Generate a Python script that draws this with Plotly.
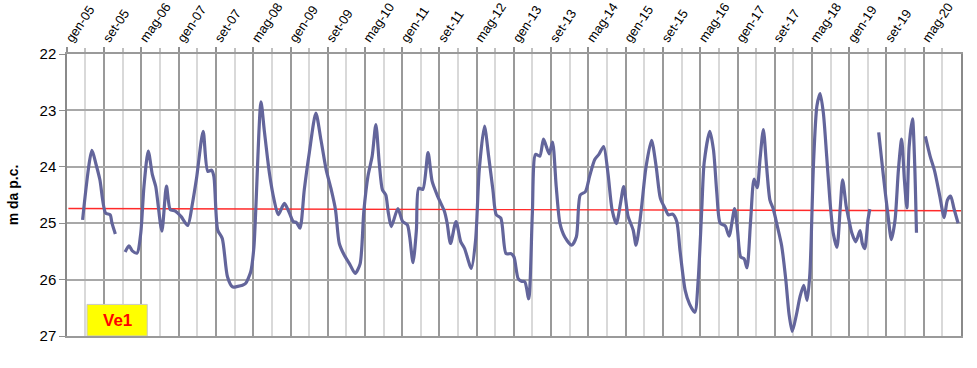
import plotly.graph_objects as go

# --- data (None = gap in the record) ---
dates = [
    "2005-04-13", "2005-06-13", "2005-07-10", "2005-08-04", "2005-09-10", "2005-10-10", "2005-10-22", "2005-11-13",
    "2005-12-15",
    "2006-01-16", "2006-02-10", "2006-03-04", "2006-04-04", "2006-04-28", "2006-05-19", "2006-06-16", "2006-07-13",
    "2006-08-04", "2006-09-13", "2006-10-13", "2006-11-07", "2006-12-07", "2007-01-16", "2007-03-01", "2007-04-01",
    "2007-04-28", "2007-06-10", "2007-07-10", "2007-08-04", "2007-08-19", "2007-09-13", "2007-10-13", "2007-11-16",
    "2007-12-19", "2008-01-22", "2008-02-22", "2008-03-13", "2008-04-16", "2008-05-07", "2008-06-22", "2008-07-13",
    "2008-08-16", "2008-09-16", "2008-10-13", "2008-11-22", "2008-12-25", "2009-01-19", "2009-02-10", "2009-03-04",
    "2009-04-01", "2009-05-04", "2009-06-16", "2009-07-19", "2009-08-22", "2009-09-22", "2009-10-22", "2009-11-16",
    "2009-12-19", "2010-01-22", "2010-02-28", "2010-04-01", "2010-04-25", "2010-05-22", "2010-06-19", "2010-07-13",
    "2010-08-04", "2010-08-25", "2010-09-16", "2010-10-01", "2010-10-22", "2010-12-04", "2011-01-04", "2011-02-04",
    "2011-02-19", "2011-03-13", "2011-04-04", "2011-04-19", "2011-05-16", "2011-06-19", "2011-07-16", "2011-08-22",
    "2011-10-04", "2011-10-22", "2011-11-13", "2011-12-19", "2012-01-19", "2012-02-13", "2012-03-28", "2012-04-25",
    "2012-05-19", "2012-06-22", "2012-07-19", "2012-08-16", "2012-09-07", "2012-10-07", "2012-11-10", "2012-12-13",
    "2013-01-01", "2013-01-28", "2013-02-19", "2013-03-13", "2013-04-07", "2013-05-01", "2013-05-22", "2013-06-19",
    "2013-07-13", "2013-08-19", "2013-09-10", "2013-10-04", "2013-10-28", "2013-11-28", "2014-01-13", "2014-02-13",
    "2014-03-10", "2014-04-13", "2014-05-10", "2014-06-13", "2014-07-10", "2014-08-10", "2014-09-07", "2014-10-04",
    "2014-11-01", "2014-11-28", "2014-12-19", "2015-01-16", "2015-02-19", "2015-03-10", "2015-04-13", "2015-05-13",
    "2015-06-19", "2015-07-19", "2015-08-16", "2015-09-16", "2015-10-07", "2015-11-04", "2015-12-01", "2015-12-22",
    "2016-01-25", "2016-02-22", "2016-03-28", "2016-04-19", "2016-05-13", "2016-05-28", "2016-07-04", "2016-07-28",
    "2016-08-19", "2016-09-10", "2016-10-13", "2016-11-07", "2016-12-13", "2017-01-01", "2017-01-22", "2017-02-13",
    "2017-03-04", "2017-03-28", "2017-04-19", "2017-05-10", "2017-05-28", "2017-06-19", "2017-07-10", "2017-08-01",
    "2017-08-22", "2017-09-19", "2017-10-16", "2017-11-13", "2017-12-04", "2017-12-25", "2018-01-22", "2018-02-13",
    "2018-03-10", "2018-04-01", "2018-04-19", "2018-05-13", "2018-06-04", "2018-06-25", "2018-07-16", "2018-08-07",
    "2018-08-28", "2018-09-19", "2018-10-13", "2018-11-04", "2018-11-19", "2018-12-13", "2018-12-28", "2019-01-19",
    "2019-02-13", "2019-03-13", "2019-03-28", "2019-04-13", "2019-05-04", "2019-05-16",
    "2019-06-15",
    "2019-07-13", "2019-08-13", "2019-09-10", "2019-10-04", "2019-10-28", "2019-11-19", "2019-12-10", "2019-12-28",
    "2020-01-13", "2020-01-28", "2020-02-19", "2020-03-04", "2020-03-16",
    "2020-04-15",
    "2020-05-13", "2020-06-13", "2020-07-13", "2020-08-16", "2020-09-13", "2020-10-04", "2020-10-25", "2020-11-16",
    "2020-12-13",
]
level = [
    24.94, 23.71, 23.96, 24.23, 24.82, 24.85, 25.00, 25.19,
    None,
    25.51, 25.40, 25.49, 25.53, 25.18, 24.35, 23.72, 24.14,
    24.35, 25.14, 24.34, 24.76, 24.78, 24.88, 25.04, 24.65,
    24.20, 23.37, 24.08, 24.06, 24.17, 25.12, 25.27, 25.95,
    26.13, 26.12, 26.10, 26.07, 25.86, 25.42, 22.85, 23.34,
    24.11, 24.59, 24.85, 24.65, 24.82, 24.97, 24.99, 25.09,
    24.41, 23.75, 23.05, 23.52, 24.05, 24.38, 24.76, 25.36,
    25.57, 25.72, 25.89, 25.72, 24.80, 24.17, 23.81, 23.25,
    23.93, 24.41, 24.50, 24.79, 25.06, 24.74, 24.97, 25.03,
    25.24, 25.70, 25.12, 24.38, 24.40, 23.75, 24.26, 24.53,
    24.79, 25.00, 25.36, 24.97, 25.33, 25.45, 25.80, 25.30,
    24.05, 23.28, 23.81, 24.41, 24.85, 24.91, 25.54, 25.54,
    25.60, 25.98, 26.03, 26.04, 26.34, 24.82, 23.78, 23.81,
    23.51, 23.77, 23.56, 24.35, 25.00, 25.24, 25.39, 25.24,
    24.50, 24.44, 24.17, 23.87, 23.78, 23.64, 24.11, 24.76,
    25.01, 24.65, 24.35, 24.87, 25.12, 25.39, 24.76, 24.02,
    23.53, 23.99, 24.56, 24.74, 24.85, 24.84, 24.97, 25.48,
    26.19, 26.43, 26.58, 26.01, 24.71, 23.93, 23.37, 23.70,
    24.47, 25.00, 25.05, 25.23, 24.74, 25.12, 25.60, 25.63,
    25.79, 24.94, 24.22, 24.37, 23.87, 23.34, 23.99, 24.59,
    24.74, 25.06, 25.39, 26.01, 26.61, 26.92, 26.61, 26.31,
    26.10, 26.37, 25.90, 23.93, 22.92, 22.70, 23.04, 23.81,
    24.59, 25.18, 25.43, 24.71, 24.23, 24.71, 24.91, 25.18,
    25.33, 25.13, 25.36, 25.45, 24.94, 24.75,
    None,
    23.39, 24.17, 24.82, 25.29, 24.94, 24.05, 23.51, 24.23,
    24.73, 23.64, 23.15, 23.93, 25.17,
    None,
    23.46, 23.81, 24.08, 24.53, 24.90, 24.59, 24.52, 24.74,
    25.00,
]

# reference (mean) level line
ref_dates = ["2005-01-10", "2021-01-01"]
ref_level = [24.74, 24.78]

# axis ticks
tick_dates = ["2005-01-01", "2005-09-01", "2006-05-01", "2007-01-01", "2007-09-01", "2008-05-01",
              "2009-01-01", "2009-09-01", "2010-05-01", "2011-01-01", "2011-09-01", "2012-05-01",
              "2013-01-01", "2013-09-01", "2014-05-01", "2015-01-01", "2015-09-01", "2016-05-01",
              "2017-01-01", "2017-09-01", "2018-05-01", "2019-01-01", "2019-09-01", "2020-05-01"]
tick_labels = ["gen-05", "set-05", "mag-06", "gen-07", "set-07", "mag-08",
               "gen-09", "set-09", "mag-10", "gen-11", "set-11", "mag-12",
               "gen-13", "set-13", "mag-14", "gen-15", "set-15", "mag-16",
               "gen-17", "set-17", "mag-18", "gen-19", "set-19", "mag-20"]
minor_dates = ["2005-05-01", "2006-01-01", "2006-09-01", "2007-05-01", "2008-01-01", "2008-09-01",
               "2009-05-01", "2010-01-01", "2010-09-01", "2011-05-01", "2012-01-01", "2012-09-01",
               "2013-05-01", "2014-01-01", "2014-09-01", "2015-05-01", "2016-01-01", "2016-09-01",
               "2017-05-01", "2018-01-01", "2018-09-01", "2019-05-01", "2020-01-01", "2020-09-01"]
y_ticks = [22, 23, 24, 25, 26, 27]

FONT = "Liberation Sans, Arial, sans-serif"

fig = go.Figure()
fig.add_trace(go.Scatter(x=ref_dates, y=ref_level, mode="lines",
                         line=dict(color="#ff2a2a", width=1.4), hoverinfo="skip", showlegend=False))
fig.add_trace(go.Scatter(x=dates, y=level, mode="lines", connectgaps=False,
                         line=dict(color="#63659b", width=3.2, shape="spline", smoothing=0.7),
                         showlegend=False))

# yellow label box
fig.add_shape(type="rect", xref="paper", yref="y", x0=0.0224, x1=0.0898, y0=26.44, y1=27.0,
              fillcolor="#ffff00", line=dict(color="#c8c8c8", width=1), layer="above")
fig.add_annotation(xref="paper", yref="y", x=0.0561, y=26.72, xanchor="center", yanchor="middle",
                   text="<b>Ve1</b>", showarrow=False,
                   font=dict(family=FONT, size=17, color="#ff0000"))

fig.update_layout(
    width=977, height=368,
    margin=dict(l=67, r=16, t=54, b=32),
    paper_bgcolor="white", plot_bgcolor="white",
    font=dict(family=FONT, color="black"),
    xaxis=dict(
        type="date", side="top", range=["2005-01-01", "2021-01-01"], automargin=False,
        tickmode="array", tickvals=tick_dates, ticktext=tick_labels, tickangle=-56,
        tickfont=dict(size=13, family=FONT), ticklabelstandoff=-4,
        ticks="outside", ticklen=5, tickcolor="#909090", tickwidth=1.5,
        showgrid=True, gridcolor="#9a9a9a", gridwidth=1.5,
        minor=dict(tickvals=minor_dates, showgrid=True, gridcolor="#d9d9d9", gridwidth=1.5,
                   ticks="outside", ticklen=4, tickcolor="#c0c0c0"),
        showline=True, linecolor="#9a9a9a", linewidth=1.5, mirror=True,
        zeroline=False,
    ),
    yaxis=dict(
        range=[27, 22], tickvals=y_ticks, ticks="outside", ticklen=6, tickcolor="#909090",
        tickfont=dict(size=15, family=FONT), automargin=False,
        showgrid=True, gridcolor="#a8a8a8", gridwidth=1.5,
        showline=True, linecolor="#8a8a8a", linewidth=1.5, mirror=True,
        zeroline=False,
        title=dict(text="<b>m da p.c.</b>", font=dict(size=14, family=FONT), standoff=18),
    ),
)

fig.write_html("out.html", config={"displayModeBar": False},
               post_script="document.body.style.margin='0';document.body.style.padding='0';")
